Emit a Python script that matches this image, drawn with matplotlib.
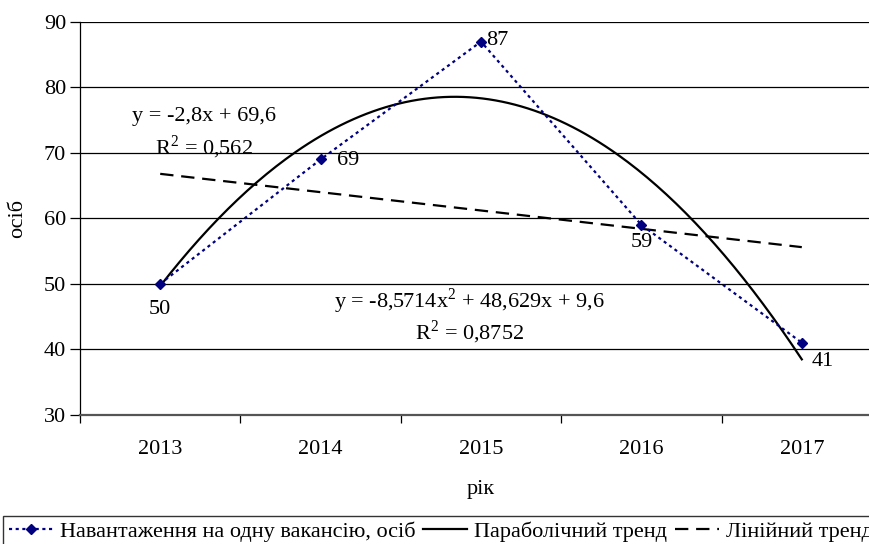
"""
Навантаження на одну вакансію з параболічним та лінійним трендом, 2013-2017.
"""

import numpy as np
import matplotlib.pyplot as plt

years = ['2013', '2014', '2015', '2016', '2017']
load_per_vacancy = [50, 69, 87, 59, 41]

yticks = [30, 40, 50, 60, 70, 80, 90]

series_label = 'Навантаження на одну вакансію, осіб'
parab_label = 'Параболічний тренд'
linear_label = 'Лінійний тренд'
lin_eq = ['y = -2,8x + 69,6', 'R$^2$ = 0,562']
parab_eq = ['y = -8,5714x$^2$ + 48,629x + 9,6', 'R$^2$ = 0,8752']

plt.rcParams['font.family'] = ['Liberation Serif', 'DejaVu Serif']
plt.rcParams['mathtext.fontset'] = 'custom'
plt.rcParams['mathtext.rm'] = 'Liberation Serif'

FS = 16

x = np.arange(1, len(years) + 1)
y = np.array(load_per_vacancy, dtype=float)

# trend lines (the same least-squares fits Excel draws)
lin = np.polyfit(x, y, 1)
par = np.polyfit(x, y, 2)
xs = np.linspace(1, 5, 200)

fig = plt.figure(figsize=(8.7, 5.44), dpi=100)
ax = fig.add_axes([80 / 870, 1 - 414.7 / 544, 802 / 870, (414.7 - 22) / 544])

for v in yticks[1:]:
    ax.axhline(v, color='black', lw=0.9, zorder=1)

ax.plot(x, y, color='#000080', lw=1.6, linestyle=(0, (1.4, 1.6)),
        marker='D', markersize=5.5, zorder=4, label=series_label)
ax.plot(xs, np.polyval(par, xs), color='black', lw=1.6, zorder=3, label=parab_label)
ax.plot(x, np.polyval(lin, x), color='black', lw=1.6, linestyle=(0, (6, 3.5)),
        zorder=3, label=linear_label)

# data labels
offsets = [(0, -12, 'center', 'top'), (12, -1, 'left', 'center'),
           (4, 1, 'left', 'center'), (0, -6, 'center', 'top'),
           (7, -7, 'left', 'top')]
for xi, yi, (dx, dy, ha, va) in zip(x, y, offsets):
    ax.annotate(f'{int(yi)}', (xi, yi), xytext=(dx, dy), textcoords='offset points',
                ha=ha, va=va, fontsize=FS)

ax.text(1.27, 75.6, lin_eq[0], ha='center', va='center', fontsize=FS)
ax.text(1.27, 70.8, lin_eq[1], ha='center', va='center', fontsize=FS)
ax.text(2.93, 47.4, parab_eq[0], ha='center', va='center', fontsize=FS)
ax.text(2.93, 42.6, parab_eq[1], ha='center', va='center', fontsize=FS)

ax.set_xlim(0.5, 5.5)
ax.set_ylim(30, 90)
ax.set_yticks(yticks)
ax.tick_params(axis='y', labelsize=FS, length=7, width=0.9, direction='out', pad=3)
ax.set_xticks(x)
ax.set_xticklabels(years, fontsize=FS)
ax.set_xticks(np.arange(0.5, 5.6, 1), minor=True)
ax.tick_params(axis='x', which='major', length=0, pad=18)
ax.tick_params(axis='x', which='minor', length=6, width=0.9, direction='out')

for s in ['top', 'right']:
    ax.spines[s].set_visible(False)
ax.spines['left'].set_linewidth(0.9)
ax.spines['bottom'].set_color('#555555')
ax.spines['bottom'].set_linewidth(1.6)

ax.set_ylabel('осіб', fontsize=FS, labelpad=12)
ax.set_xlabel('рік', fontsize=FS, labelpad=15)

fig.legend(loc='upper left', bbox_to_anchor=(3 / 870, 1 - 516 / 544), ncol=3,
           fontsize=FS, frameon=True, fancybox=False, edgecolor='black',
           handlelength=2.0, handletextpad=0.3, columnspacing=0.35,
           borderpad=0.25, borderaxespad=0)

plt.savefig('out.png', dpi=100)
